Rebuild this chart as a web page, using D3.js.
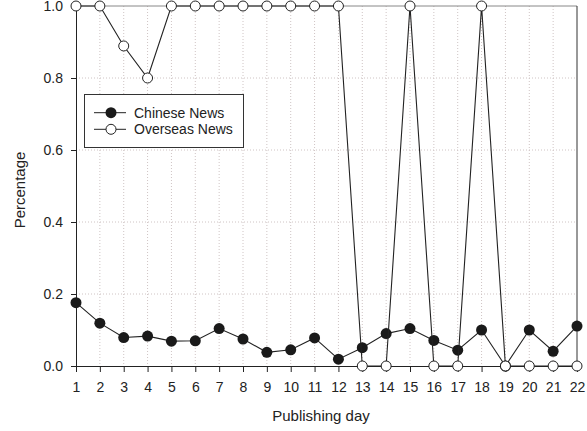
<!DOCTYPE html>
<html>
<head>
<meta charset="utf-8">
<script src="https://cdn.jsdelivr.net/npm/d3@7"></script>
<style>
  body { margin: 0; background: #fff; }
  text { font-family: "Liberation Sans", Arial, sans-serif; fill: #222; }
</style>
</head>
<body>
<svg id="chart" width="587" height="431"></svg>
<script>
// dias de publicação
const days = d3.range(1, 23);
const chineseNews = [0.176, 0.119, 0.079, 0.083, 0.069, 0.070, 0.104, 0.075, 0.038, 0.045, 0.078,
                     0.019, 0.051, 0.090, 0.104, 0.071, 0.044, 0.100, 0.000, 0.100, 0.041, 0.111];
const overseasNews = [1, 1, 0.889, 0.8, 1, 1, 1, 1, 1, 1, 1,
                      1, 0, 0, 1, 0, 0, 1, 0, 0, 0, 0];
const yTicks = [0, 0.2, 0.4, 0.6, 0.8, 1.0];
const seriesNames = ["Chinese News", "Overseas News"];

const svg = d3.select("#chart");
const plotLeft = 76, plotRight = 577, plotTop = 6, plotBottom = 366;

const x = d3.scaleLinear().domain([1, 22]).range([plotLeft, plotRight]);
const y = d3.scaleLinear().domain([0, 1]).range([plotBottom, plotTop]);

// grade pontilhada
svg.append("g")
    .selectAll("line")
    .data(days.slice(1, -1))
    .enter().append("line")
    .attr("x1", d => x(d)).attr("x2", d => x(d))
    .attr("y1", plotTop).attr("y2", plotBottom)
    .attr("stroke", "#cfc4c4")
    .attr("stroke-width", 1)
    .attr("stroke-dasharray", "1,2");

svg.append("g")
    .selectAll("line")
    .data(yTicks.slice(1, -1))
    .enter().append("line")
    .attr("x1", plotLeft).attr("x2", plotRight)
    .attr("y1", d => y(d)).attr("y2", d => y(d))
    .attr("stroke", "#cfc4c4")
    .attr("stroke-width", 1)
    .attr("stroke-dasharray", "1,2");

// moldura: topo cinza, direita escura
svg.append("line")
    .attr("x1", plotLeft).attr("x2", plotRight)
    .attr("y1", plotTop).attr("y2", plotTop)
    .attr("stroke", "#888");
svg.append("line")
    .attr("x1", plotRight).attr("x2", plotRight)
    .attr("y1", plotTop).attr("y2", plotBottom)
    .attr("stroke", "#333");

// eixos
const xAxis = svg.append("g")
    .attr("transform", `translate(0,${plotBottom})`)
    .call(d3.axisBottom(x).tickValues(days).tickFormat(d3.format("d")).tickSizeOuter(0).tickSize(6).tickPadding(10));
const yAxis = svg.append("g")
    .attr("transform", `translate(${plotLeft},0)`)
    .call(d3.axisLeft(y).tickValues(yTicks).tickFormat(d3.format(".1f")).tickSizeOuter(0).tickSize(5).tickPadding(8));

[xAxis, yAxis].forEach(a => {
    a.select(".domain").attr("stroke", "#222");
    a.selectAll(".tick line").attr("stroke", "#222");
    a.selectAll(".tick text")
        .style("font-family", "Liberation Sans, Arial, sans-serif")
        .style("font-size", "14px")
        .attr("fill", "#222");
});

const line = d3.line().x((d, i) => x(days[i])).y(d => y(d));

// Chinese News
svg.append("path")
    .datum(chineseNews)
    .attr("d", line)
    .attr("fill", "none")
    .attr("stroke", "#222")
    .attr("stroke-width", 1.1);
svg.append("g")
    .selectAll("circle")
    .data(chineseNews)
    .enter().append("circle")
    .attr("cx", (d, i) => x(days[i]))
    .attr("cy", d => y(d))
    .attr("r", 5.5)
    .attr("fill", "#1a1a1a");

// Overseas News
svg.append("path")
    .datum(overseasNews)
    .attr("d", line)
    .attr("fill", "none")
    .attr("stroke", "#222")
    .attr("stroke-width", 1.1);
svg.append("g")
    .selectAll("circle")
    .data(overseasNews)
    .enter().append("circle")
    .attr("cx", (d, i) => x(days[i]))
    .attr("cy", d => y(d))
    .attr("r", 5)
    .attr("fill", "#fff")
    .attr("stroke", "#222")
    .attr("stroke-width", 1);

// títulos dos eixos
svg.append("text")
    .attr("x", 321)
    .attr("y", 421)
    .attr("text-anchor", "middle")
    .style("font-size", "15px")
    .text("Publishing day");
svg.append("text")
    .attr("transform", "translate(24.5,190) rotate(-90)")
    .attr("text-anchor", "middle")
    .style("font-size", "15px")
    .text("Percentage");

// legenda
const legend = svg.append("g");
legend.append("rect")
    .attr("x", 84.5).attr("y", 94.5)
    .attr("width", 159).attr("height", 53)
    .attr("fill", "#fff")
    .attr("stroke", "#333");

const entries = legend.selectAll(".entry")
    .data(seriesNames)
    .enter().append("g")
    .attr("transform", (d, i) => `translate(0,${112.7 + i * 16.6})`);
entries.append("line")
    .attr("x1", 94).attr("x2", 126)
    .attr("stroke", "#222");
entries.append("circle")
    .attr("cx", 111).attr("r", (d, i) => i === 0 ? 5.5 : 5)
    .attr("fill", (d, i) => i === 0 ? "#1a1a1a" : "#fff")
    .attr("stroke", (d, i) => i === 0 ? "none" : "#222");
entries.append("text")
    .attr("x", 134)
    .attr("dy", "0.36em")
    .style("font-size", "14px")
    .text(d => d);
</script>
</body>
</html>
